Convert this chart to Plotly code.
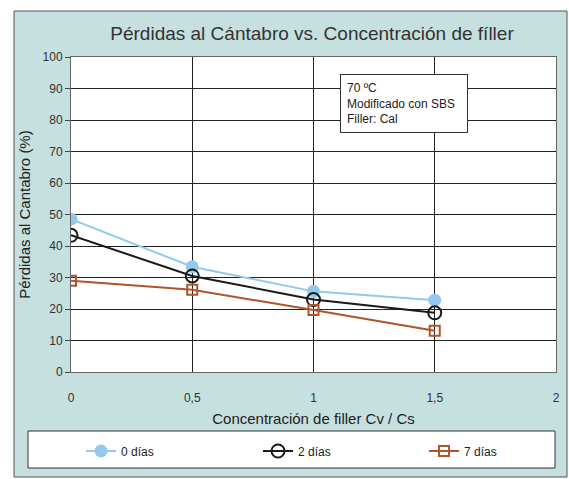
import plotly.graph_objects as go

x_vals = [0, 0.5, 1, 1.5]
dias0 = [48.5, 33.4, 25.6, 22.8]
dias2 = [43.4, 30.5, 23.0, 18.8]
dias7 = [29.0, 26.1, 19.7, 13.1]
series_names = ["0 días", "2 días", "7 días"]
y_ticks = list(range(0, 101, 10))
x_ticks = [0, 0.5, 1, 1.5, 2]
x_ticklabels = ["0", "0,5", "1", "1,5", "2"]

FONT = "Liberation Sans, Arial, sans-serif"
L, R, T, B = 71, 13, 57, 107
W, H = 569, 479
pw, ph = W - L - R, H - T - B

def px_x(p):
    return (p - L) / pw

def px_y(q):
    return (H - B - q) / ph

fig = go.Figure()
fig.add_trace(go.Scatter(x=x_vals, y=dias0, name=series_names[0], mode="lines+markers",
                         line=dict(color="#93c9ec", width=2),
                         marker=dict(symbol="circle", size=13, color="#93c9ec"),
                         legend="legend4"))
fig.add_trace(go.Scatter(x=x_vals, y=dias2, name=series_names[1], mode="lines+markers",
                         line=dict(color="#1a1a1a", width=2),
                         marker=dict(symbol="circle-open", size=13, color="#1a1a1a", line=dict(width=2)),
                         legend="legend2"))
fig.add_trace(go.Scatter(x=x_vals, y=dias7, name=series_names[2], mode="lines+markers",
                         line=dict(color="#b0542a", width=2),
                         marker=dict(symbol="square-open", size=10, color="#b0542a", line=dict(width=2)),
                         legend="legend3"))

shapes = [
    dict(type="rect", xref="paper", yref="paper", x0=px_x(14), x1=px_x(567), y0=px_y(477), y1=px_y(11),
         fillcolor="#c6dfdf", line=dict(color="#555555", width=1), layer="below"),
    dict(type="rect", xref="paper", yref="paper", x0=0, x1=1, y0=0, y1=1,
         fillcolor="white", line=dict(width=0), layer="below"),
    dict(type="rect", xref="paper", yref="paper", x0=px_x(28), x1=px_x(555), y0=px_y(468), y1=px_y(431),
         fillcolor="white", line=dict(color="#333333", width=1), layer="below"),
]

leg_common = dict(orientation="h", bgcolor="rgba(0,0,0,0)", borderwidth=0,
                  font=dict(family=FONT, size=12, color="#222"), yanchor="middle", xanchor="left",
                  y=px_y(451))

fig.update_layout(
    width=W, height=H,
    margin=dict(l=L, r=R, t=T, b=B, autoexpand=False),
    paper_bgcolor="white",
    plot_bgcolor="white",
    separators=",.",
    shapes=shapes,
    title=dict(text="Pérdidas al Cántabro vs. Concentración de fíller", x=px_x(312), xanchor="center",
               xref="paper", y=1 - 33 / H, yanchor="middle", font=dict(family=FONT, size=19, color="#333")),
    xaxis=dict(range=[0, 2], tickvals=x_ticks, ticktext=x_ticklabels, showgrid=True,
               gridcolor="#222", gridwidth=1, zeroline=False, showline=True, linecolor="#666", mirror=True,
               ticks="outside", ticklen=15, tickcolor="rgba(0,0,0,0)",
               tickfont=dict(family=FONT, size=12, color="#333"),
               title=dict(text="Concentración de filler Cv / Cs", standoff=9,
                          font=dict(family=FONT, size=15, color="#222"))),
    yaxis=dict(range=[0, 100], tickvals=y_ticks, showgrid=True, gridcolor="#222", gridwidth=1,
               zeroline=False, showline=True, linecolor="#666", mirror=True,
               ticks="outside", ticklen=5, tickcolor="#444",
               tickfont=dict(family=FONT, size=12, color="#333"),
               title=dict(text="Pérdidas al Cantabro (%)", standoff=8,
                          font=dict(family=FONT, size=15, color="#222"))),
    legend4=dict(x=px_x(81), **leg_common),
    legend2=dict(x=px_x(258), **leg_common),
    legend3=dict(x=px_x(424), **leg_common),
    annotations=[dict(text="70 ºC<br>Modificado con SBS<br>Filler: Cal", xref="paper", yref="paper",
                      x=px_x(340), y=px_y(74), xanchor="left", yanchor="top", align="left",
                      showarrow=False, bgcolor="white", bordercolor="#333", borderwidth=1,
                      borderpad=6, width=114,
                      font=dict(family=FONT, size=12, color="#222"))],
)

fig.write_html("out.html", config={"displayModeBar": False},
               post_script="document.body.style.margin='0';document.body.style.overflow='hidden';")
